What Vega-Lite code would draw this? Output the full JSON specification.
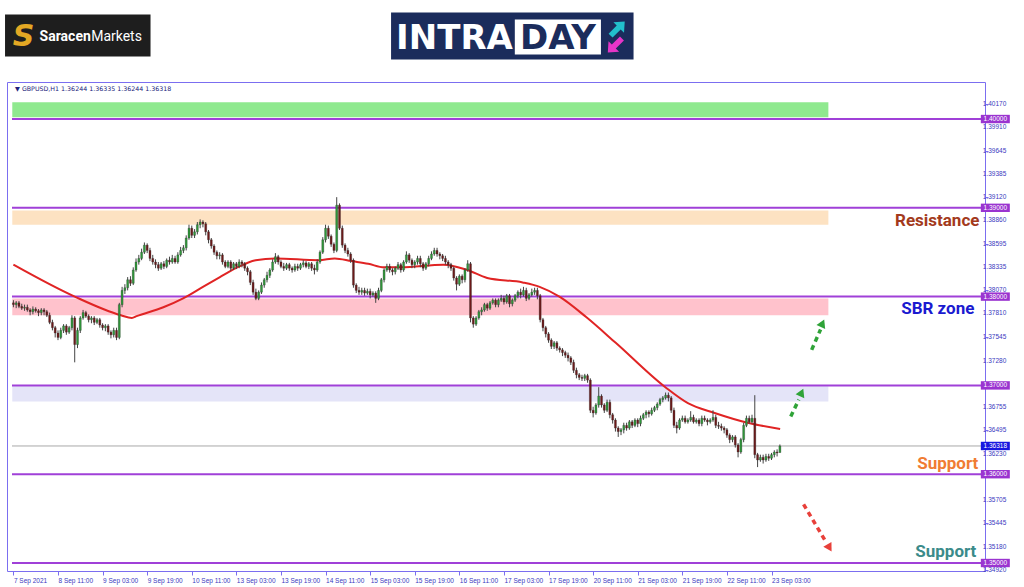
{
"$schema": "https://vega.github.io/schema/vega-lite/v6.json",
"width": 978, "height": 489,
"autosize": {"type": "none"},
"padding": {"left": 7, "top": 82, "right": 39, "bottom": 16},
"background": "white",
"config": {"view": {"stroke": "#7b6ef0", "strokeWidth": 1}, "axis": {"labelOverlap": false}},
"datasets": {
"candles": [
{"t":0,"o":1.3793,"h":1.3796,"l":1.3788,"c":1.3791},
{"t":1,"o":1.3791,"h":1.3795,"l":1.3787,"c":1.3793},
{"t":2,"o":1.3793,"h":1.3795,"l":1.3787,"c":1.3789},
{"t":3,"o":1.3789,"h":1.3792,"l":1.3785,"c":1.3787},
{"t":4,"o":1.3787,"h":1.3791,"l":1.3784,"c":1.3788},
{"t":5,"o":1.3788,"h":1.3791,"l":1.3783,"c":1.3785},
{"t":6,"o":1.3785,"h":1.3787,"l":1.3779,"c":1.3783},
{"t":7,"o":1.3783,"h":1.3789,"l":1.3780,"c":1.3786},
{"t":8,"o":1.3786,"h":1.3788,"l":1.3782,"c":1.3784},
{"t":9,"o":1.3784,"h":1.3786,"l":1.3778,"c":1.3782},
{"t":10,"o":1.3782,"h":1.3787,"l":1.3779,"c":1.3785},
{"t":11,"o":1.3785,"h":1.3787,"l":1.3779,"c":1.3783},
{"t":12,"o":1.3783,"h":1.3785,"l":1.3777,"c":1.3779},
{"t":13,"o":1.3779,"h":1.3782,"l":1.3769,"c":1.3771},
{"t":14,"o":1.3771,"h":1.3774,"l":1.3762,"c":1.3765},
{"t":15,"o":1.3765,"h":1.3767,"l":1.3754,"c":1.3759},
{"t":16,"o":1.3759,"h":1.3762,"l":1.3751,"c":1.3754},
{"t":17,"o":1.3754,"h":1.3765,"l":1.3752,"c":1.3762},
{"t":18,"o":1.3762,"h":1.3769,"l":1.3759,"c":1.3767},
{"t":19,"o":1.3767,"h":1.3769,"l":1.3757,"c":1.3760},
{"t":20,"o":1.3760,"h":1.3767,"l":1.3758,"c":1.3765},
{"t":21,"o":1.3765,"h":1.3779,"l":1.3762,"c":1.3776},
{"t":22,"o":1.3776,"h":1.3778,"l":1.3726,"c":1.3746},
{"t":23,"o":1.3746,"h":1.3765,"l":1.3742,"c":1.3762},
{"t":24,"o":1.3762,"h":1.3778,"l":1.3759,"c":1.3776},
{"t":25,"o":1.3776,"h":1.3785,"l":1.3774,"c":1.3782},
{"t":26,"o":1.3782,"h":1.3784,"l":1.3776,"c":1.3778},
{"t":27,"o":1.3778,"h":1.3780,"l":1.3771,"c":1.3774},
{"t":28,"o":1.3774,"h":1.3778,"l":1.3770,"c":1.3776},
{"t":29,"o":1.3776,"h":1.3778,"l":1.3768,"c":1.3771},
{"t":30,"o":1.3771,"h":1.3776,"l":1.3769,"c":1.3774},
{"t":31,"o":1.3774,"h":1.3776,"l":1.3765,"c":1.3768},
{"t":32,"o":1.3768,"h":1.3770,"l":1.3762,"c":1.3765},
{"t":33,"o":1.3765,"h":1.3769,"l":1.3761,"c":1.3767},
{"t":34,"o":1.3767,"h":1.3769,"l":1.3757,"c":1.3760},
{"t":35,"o":1.3760,"h":1.3762,"l":1.3753,"c":1.3757},
{"t":36,"o":1.3757,"h":1.3765,"l":1.3754,"c":1.3762},
{"t":37,"o":1.3762,"h":1.3765,"l":1.3751,"c":1.3754},
{"t":38,"o":1.3754,"h":1.3793,"l":1.3752,"c":1.3791},
{"t":39,"o":1.3791,"h":1.3811,"l":1.3788,"c":1.3807},
{"t":40,"o":1.3807,"h":1.3814,"l":1.3803,"c":1.3810},
{"t":41,"o":1.3810,"h":1.3822,"l":1.3807,"c":1.3819},
{"t":42,"o":1.3819,"h":1.3823,"l":1.3812,"c":1.3815},
{"t":43,"o":1.3815,"h":1.3833,"l":1.3813,"c":1.3830},
{"t":44,"o":1.3830,"h":1.3843,"l":1.3828,"c":1.3839},
{"t":45,"o":1.3839,"h":1.3847,"l":1.3836,"c":1.3843},
{"t":46,"o":1.3843,"h":1.3854,"l":1.3841,"c":1.3850},
{"t":47,"o":1.3850,"h":1.3861,"l":1.3848,"c":1.3858},
{"t":48,"o":1.3858,"h":1.3860,"l":1.3849,"c":1.3852},
{"t":49,"o":1.3852,"h":1.3855,"l":1.3840,"c":1.3843},
{"t":50,"o":1.3843,"h":1.3847,"l":1.3836,"c":1.3839},
{"t":51,"o":1.3839,"h":1.3842,"l":1.3832,"c":1.3836},
{"t":52,"o":1.3836,"h":1.3839,"l":1.3829,"c":1.3832},
{"t":53,"o":1.3832,"h":1.3839,"l":1.3830,"c":1.3837},
{"t":54,"o":1.3837,"h":1.3840,"l":1.3831,"c":1.3834},
{"t":55,"o":1.3834,"h":1.3843,"l":1.3832,"c":1.3841},
{"t":56,"o":1.3841,"h":1.3845,"l":1.3836,"c":1.3839},
{"t":57,"o":1.3839,"h":1.3847,"l":1.3837,"c":1.3843},
{"t":58,"o":1.3843,"h":1.3846,"l":1.3837,"c":1.3839},
{"t":59,"o":1.3839,"h":1.3850,"l":1.3837,"c":1.3847},
{"t":60,"o":1.3847,"h":1.3856,"l":1.3845,"c":1.3852},
{"t":61,"o":1.3852,"h":1.3858,"l":1.3849,"c":1.3855},
{"t":62,"o":1.3855,"h":1.3869,"l":1.3852,"c":1.3866},
{"t":63,"o":1.3866,"h":1.3881,"l":1.3864,"c":1.3877},
{"t":64,"o":1.3877,"h":1.3880,"l":1.3866,"c":1.3869},
{"t":65,"o":1.3869,"h":1.3876,"l":1.3866,"c":1.3873},
{"t":66,"o":1.3873,"h":1.3884,"l":1.3870,"c":1.3881},
{"t":67,"o":1.3881,"h":1.3887,"l":1.3877,"c":1.3884},
{"t":68,"o":1.3884,"h":1.3886,"l":1.3878,"c":1.3882},
{"t":69,"o":1.3882,"h":1.3884,"l":1.3869,"c":1.3873},
{"t":70,"o":1.3873,"h":1.3875,"l":1.3860,"c":1.3864},
{"t":71,"o":1.3864,"h":1.3866,"l":1.3854,"c":1.3857},
{"t":72,"o":1.3857,"h":1.3859,"l":1.3847,"c":1.3850},
{"t":73,"o":1.3850,"h":1.3852,"l":1.3842,"c":1.3846},
{"t":74,"o":1.3846,"h":1.3850,"l":1.3842,"c":1.3847},
{"t":75,"o":1.3847,"h":1.3849,"l":1.3836,"c":1.3839},
{"t":76,"o":1.3839,"h":1.3841,"l":1.3832,"c":1.3834},
{"t":77,"o":1.3834,"h":1.3841,"l":1.3832,"c":1.3839},
{"t":78,"o":1.3839,"h":1.3841,"l":1.3829,"c":1.3832},
{"t":79,"o":1.3832,"h":1.3839,"l":1.3830,"c":1.3837},
{"t":80,"o":1.3837,"h":1.3839,"l":1.3831,"c":1.3834},
{"t":81,"o":1.3834,"h":1.3842,"l":1.3832,"c":1.3839},
{"t":82,"o":1.3839,"h":1.3841,"l":1.3833,"c":1.3837},
{"t":83,"o":1.3837,"h":1.3839,"l":1.3829,"c":1.3832},
{"t":84,"o":1.3832,"h":1.3834,"l":1.3824,"c":1.3828},
{"t":85,"o":1.3828,"h":1.3830,"l":1.3813,"c":1.3816},
{"t":86,"o":1.3816,"h":1.3819,"l":1.3802,"c":1.3805},
{"t":87,"o":1.3805,"h":1.3809,"l":1.3796,"c":1.3798},
{"t":88,"o":1.3798,"h":1.3807,"l":1.3796,"c":1.3805},
{"t":89,"o":1.3805,"h":1.3816,"l":1.3803,"c":1.3813},
{"t":90,"o":1.3813,"h":1.3821,"l":1.3810,"c":1.3819},
{"t":91,"o":1.3819,"h":1.3828,"l":1.3816,"c":1.3824},
{"t":92,"o":1.3824,"h":1.3832,"l":1.3821,"c":1.3830},
{"t":93,"o":1.3830,"h":1.3842,"l":1.3828,"c":1.3839},
{"t":94,"o":1.3839,"h":1.3849,"l":1.3837,"c":1.3845},
{"t":95,"o":1.3845,"h":1.3847,"l":1.3836,"c":1.3839},
{"t":96,"o":1.3839,"h":1.3841,"l":1.3832,"c":1.3834},
{"t":97,"o":1.3834,"h":1.3838,"l":1.3829,"c":1.3832},
{"t":98,"o":1.3832,"h":1.3838,"l":1.3830,"c":1.3836},
{"t":99,"o":1.3836,"h":1.3838,"l":1.3829,"c":1.3832},
{"t":100,"o":1.3832,"h":1.3834,"l":1.3827,"c":1.3830},
{"t":101,"o":1.3830,"h":1.3837,"l":1.3828,"c":1.3834},
{"t":102,"o":1.3834,"h":1.3837,"l":1.3829,"c":1.3832},
{"t":103,"o":1.3832,"h":1.3838,"l":1.3830,"c":1.3836},
{"t":104,"o":1.3836,"h":1.3841,"l":1.3833,"c":1.3838},
{"t":105,"o":1.3838,"h":1.3840,"l":1.3832,"c":1.3834},
{"t":106,"o":1.3834,"h":1.3839,"l":1.3831,"c":1.3837},
{"t":107,"o":1.3837,"h":1.3839,"l":1.3829,"c":1.3832},
{"t":108,"o":1.3832,"h":1.3836,"l":1.3825,"c":1.3830},
{"t":109,"o":1.3830,"h":1.3842,"l":1.3828,"c":1.3839},
{"t":110,"o":1.3839,"h":1.3852,"l":1.3837,"c":1.3850},
{"t":111,"o":1.3850,"h":1.3867,"l":1.3848,"c":1.3864},
{"t":112,"o":1.3864,"h":1.3881,"l":1.3861,"c":1.3877},
{"t":113,"o":1.3877,"h":1.3880,"l":1.3865,"c":1.3868},
{"t":114,"o":1.3868,"h":1.3870,"l":1.3856,"c":1.3859},
{"t":115,"o":1.3859,"h":1.3861,"l":1.3849,"c":1.3852},
{"t":116,"o":1.3852,"h":1.3912,"l":1.3850,"c":1.3903},
{"t":117,"o":1.3903,"h":1.3905,"l":1.3875,"c":1.3877},
{"t":118,"o":1.3877,"h":1.3880,"l":1.3855,"c":1.3858},
{"t":119,"o":1.3858,"h":1.3860,"l":1.3849,"c":1.3852},
{"t":120,"o":1.3852,"h":1.3855,"l":1.3845,"c":1.3848},
{"t":121,"o":1.3848,"h":1.3850,"l":1.3838,"c":1.3841},
{"t":122,"o":1.3841,"h":1.3843,"l":1.3810,"c":1.3813},
{"t":123,"o":1.3813,"h":1.3815,"l":1.3804,"c":1.3807},
{"t":124,"o":1.3807,"h":1.3811,"l":1.3802,"c":1.3805},
{"t":125,"o":1.3805,"h":1.3810,"l":1.3802,"c":1.3807},
{"t":126,"o":1.3807,"h":1.3810,"l":1.3801,"c":1.3804},
{"t":127,"o":1.3804,"h":1.3809,"l":1.3802,"c":1.3806},
{"t":128,"o":1.3806,"h":1.3809,"l":1.3798,"c":1.3802},
{"t":129,"o":1.3802,"h":1.3806,"l":1.3800,"c":1.3804},
{"t":130,"o":1.3804,"h":1.3806,"l":1.3793,"c":1.3798},
{"t":131,"o":1.3798,"h":1.3810,"l":1.3796,"c":1.3807},
{"t":132,"o":1.3807,"h":1.3821,"l":1.3805,"c":1.3819},
{"t":133,"o":1.3819,"h":1.3832,"l":1.3816,"c":1.3830},
{"t":134,"o":1.3830,"h":1.3837,"l":1.3828,"c":1.3834},
{"t":135,"o":1.3834,"h":1.3837,"l":1.3827,"c":1.3830},
{"t":136,"o":1.3830,"h":1.3832,"l":1.3824,"c":1.3828},
{"t":137,"o":1.3828,"h":1.3834,"l":1.3825,"c":1.3832},
{"t":138,"o":1.3832,"h":1.3839,"l":1.3830,"c":1.3836},
{"t":139,"o":1.3836,"h":1.3838,"l":1.3827,"c":1.3830},
{"t":140,"o":1.3830,"h":1.3841,"l":1.3828,"c":1.3839},
{"t":141,"o":1.3839,"h":1.3851,"l":1.3837,"c":1.3847},
{"t":142,"o":1.3847,"h":1.3849,"l":1.3838,"c":1.3841},
{"t":143,"o":1.3841,"h":1.3843,"l":1.3832,"c":1.3836},
{"t":144,"o":1.3836,"h":1.3841,"l":1.3832,"c":1.3839},
{"t":145,"o":1.3839,"h":1.3846,"l":1.3836,"c":1.3843},
{"t":146,"o":1.3843,"h":1.3846,"l":1.3833,"c":1.3837},
{"t":147,"o":1.3837,"h":1.3839,"l":1.3829,"c":1.3832},
{"t":148,"o":1.3832,"h":1.3839,"l":1.3830,"c":1.3837},
{"t":149,"o":1.3837,"h":1.3846,"l":1.3834,"c":1.3843},
{"t":150,"o":1.3843,"h":1.3851,"l":1.3841,"c":1.3848},
{"t":151,"o":1.3848,"h":1.3855,"l":1.3846,"c":1.3852},
{"t":152,"o":1.3852,"h":1.3855,"l":1.3845,"c":1.3848},
{"t":153,"o":1.3848,"h":1.3850,"l":1.3842,"c":1.3846},
{"t":154,"o":1.3846,"h":1.3848,"l":1.3840,"c":1.3843},
{"t":155,"o":1.3843,"h":1.3846,"l":1.3836,"c":1.3839},
{"t":156,"o":1.3839,"h":1.3841,"l":1.3832,"c":1.3836},
{"t":157,"o":1.3836,"h":1.3838,"l":1.3829,"c":1.3832},
{"t":158,"o":1.3832,"h":1.3834,"l":1.3818,"c":1.3821},
{"t":159,"o":1.3821,"h":1.3823,"l":1.3807,"c":1.3814},
{"t":160,"o":1.3814,"h":1.3825,"l":1.3812,"c":1.3823},
{"t":161,"o":1.3823,"h":1.3825,"l":1.3815,"c":1.3819},
{"t":162,"o":1.3819,"h":1.3832,"l":1.3816,"c":1.3830},
{"t":163,"o":1.3830,"h":1.3841,"l":1.3828,"c":1.3837},
{"t":164,"o":1.3837,"h":1.3839,"l":1.3771,"c":1.3776},
{"t":165,"o":1.3776,"h":1.3778,"l":1.3765,"c":1.3769},
{"t":166,"o":1.3769,"h":1.3778,"l":1.3767,"c":1.3776},
{"t":167,"o":1.3776,"h":1.3785,"l":1.3774,"c":1.3783},
{"t":168,"o":1.3783,"h":1.3788,"l":1.3779,"c":1.3785},
{"t":169,"o":1.3785,"h":1.3793,"l":1.3783,"c":1.3791},
{"t":170,"o":1.3791,"h":1.3793,"l":1.3784,"c":1.3787},
{"t":171,"o":1.3787,"h":1.3795,"l":1.3785,"c":1.3793},
{"t":172,"o":1.3793,"h":1.3798,"l":1.3791,"c":1.3796},
{"t":173,"o":1.3796,"h":1.3798,"l":1.3788,"c":1.3791},
{"t":174,"o":1.3791,"h":1.3798,"l":1.3788,"c":1.3796},
{"t":175,"o":1.3796,"h":1.3802,"l":1.3794,"c":1.3798},
{"t":176,"o":1.3798,"h":1.3801,"l":1.3791,"c":1.3794},
{"t":177,"o":1.3794,"h":1.3803,"l":1.3792,"c":1.3801},
{"t":178,"o":1.3801,"h":1.3803,"l":1.3788,"c":1.3792},
{"t":179,"o":1.3792,"h":1.3798,"l":1.3789,"c":1.3796},
{"t":180,"o":1.3796,"h":1.3803,"l":1.3794,"c":1.3801},
{"t":181,"o":1.3801,"h":1.3807,"l":1.3798,"c":1.3805},
{"t":182,"o":1.3805,"h":1.3809,"l":1.3798,"c":1.3802},
{"t":183,"o":1.3802,"h":1.3811,"l":1.3800,"c":1.3807},
{"t":184,"o":1.3807,"h":1.3810,"l":1.3795,"c":1.3798},
{"t":185,"o":1.3798,"h":1.3804,"l":1.3796,"c":1.3802},
{"t":186,"o":1.3802,"h":1.3809,"l":1.3800,"c":1.3805},
{"t":187,"o":1.3805,"h":1.3810,"l":1.3802,"c":1.3807},
{"t":188,"o":1.3807,"h":1.3810,"l":1.3797,"c":1.3801},
{"t":189,"o":1.3801,"h":1.3803,"l":1.3771,"c":1.3774},
{"t":190,"o":1.3774,"h":1.3776,"l":1.3761,"c":1.3765},
{"t":191,"o":1.3765,"h":1.3767,"l":1.3754,"c":1.3758},
{"t":192,"o":1.3758,"h":1.3760,"l":1.3748,"c":1.3751},
{"t":193,"o":1.3751,"h":1.3753,"l":1.3741,"c":1.3744},
{"t":194,"o":1.3744,"h":1.3750,"l":1.3741,"c":1.3748},
{"t":195,"o":1.3748,"h":1.3750,"l":1.3739,"c":1.3742},
{"t":196,"o":1.3742,"h":1.3744,"l":1.3737,"c":1.3740},
{"t":197,"o":1.3740,"h":1.3742,"l":1.3733,"c":1.3737},
{"t":198,"o":1.3737,"h":1.3739,"l":1.3731,"c":1.3734},
{"t":199,"o":1.3734,"h":1.3737,"l":1.3727,"c":1.3731},
{"t":200,"o":1.3731,"h":1.3733,"l":1.3723,"c":1.3726},
{"t":201,"o":1.3726,"h":1.3729,"l":1.3714,"c":1.3717},
{"t":202,"o":1.3717,"h":1.3720,"l":1.3708,"c":1.3712},
{"t":203,"o":1.3712,"h":1.3714,"l":1.3706,"c":1.3709},
{"t":204,"o":1.3709,"h":1.3712,"l":1.3705,"c":1.3708},
{"t":205,"o":1.3708,"h":1.3713,"l":1.3705,"c":1.3711},
{"t":206,"o":1.3711,"h":1.3713,"l":1.3703,"c":1.3706},
{"t":207,"o":1.3706,"h":1.3708,"l":1.3669,"c":1.3672},
{"t":208,"o":1.3672,"h":1.3676,"l":1.3664,"c":1.3669},
{"t":209,"o":1.3669,"h":1.3680,"l":1.3667,"c":1.3678},
{"t":210,"o":1.3678,"h":1.3698,"l":1.3675,"c":1.3688},
{"t":211,"o":1.3688,"h":1.3690,"l":1.3675,"c":1.3678},
{"t":212,"o":1.3678,"h":1.3680,"l":1.3669,"c":1.3672},
{"t":213,"o":1.3672,"h":1.3684,"l":1.3670,"c":1.3681},
{"t":214,"o":1.3681,"h":1.3684,"l":1.3663,"c":1.3667},
{"t":215,"o":1.3667,"h":1.3669,"l":1.3657,"c":1.3661},
{"t":216,"o":1.3661,"h":1.3663,"l":1.3648,"c":1.3652},
{"t":217,"o":1.3652,"h":1.3654,"l":1.3642,"c":1.3648},
{"t":218,"o":1.3648,"h":1.3652,"l":1.3644,"c":1.3650},
{"t":219,"o":1.3650,"h":1.3658,"l":1.3646,"c":1.3655},
{"t":220,"o":1.3655,"h":1.3658,"l":1.3649,"c":1.3652},
{"t":221,"o":1.3652,"h":1.3661,"l":1.3650,"c":1.3659},
{"t":222,"o":1.3659,"h":1.3661,"l":1.3652,"c":1.3655},
{"t":223,"o":1.3655,"h":1.3663,"l":1.3653,"c":1.3661},
{"t":224,"o":1.3661,"h":1.3663,"l":1.3653,"c":1.3657},
{"t":225,"o":1.3657,"h":1.3666,"l":1.3654,"c":1.3663},
{"t":226,"o":1.3663,"h":1.3669,"l":1.3661,"c":1.3667},
{"t":227,"o":1.3667,"h":1.3672,"l":1.3663,"c":1.3670},
{"t":228,"o":1.3670,"h":1.3672,"l":1.3664,"c":1.3668},
{"t":229,"o":1.3668,"h":1.3675,"l":1.3666,"c":1.3672},
{"t":230,"o":1.3672,"h":1.3677,"l":1.3670,"c":1.3675},
{"t":231,"o":1.3675,"h":1.3681,"l":1.3672,"c":1.3679},
{"t":232,"o":1.3679,"h":1.3686,"l":1.3677,"c":1.3684},
{"t":233,"o":1.3684,"h":1.3688,"l":1.3681,"c":1.3686},
{"t":234,"o":1.3686,"h":1.3692,"l":1.3684,"c":1.3689},
{"t":235,"o":1.3689,"h":1.3692,"l":1.3682,"c":1.3686},
{"t":236,"o":1.3686,"h":1.3688,"l":1.3669,"c":1.3672},
{"t":237,"o":1.3672,"h":1.3675,"l":1.3652,"c":1.3655},
{"t":238,"o":1.3655,"h":1.3659,"l":1.3646,"c":1.3652},
{"t":239,"o":1.3652,"h":1.3663,"l":1.3650,"c":1.3661},
{"t":240,"o":1.3661,"h":1.3666,"l":1.3659,"c":1.3663},
{"t":241,"o":1.3663,"h":1.3666,"l":1.3657,"c":1.3659},
{"t":242,"o":1.3659,"h":1.3663,"l":1.3657,"c":1.3661},
{"t":243,"o":1.3661,"h":1.3671,"l":1.3659,"c":1.3664},
{"t":244,"o":1.3664,"h":1.3667,"l":1.3657,"c":1.3659},
{"t":245,"o":1.3659,"h":1.3663,"l":1.3657,"c":1.3661},
{"t":246,"o":1.3661,"h":1.3663,"l":1.3654,"c":1.3657},
{"t":247,"o":1.3657,"h":1.3666,"l":1.3654,"c":1.3663},
{"t":248,"o":1.3663,"h":1.3666,"l":1.3659,"c":1.3661},
{"t":249,"o":1.3661,"h":1.3663,"l":1.3655,"c":1.3659},
{"t":250,"o":1.3659,"h":1.3663,"l":1.3657,"c":1.3661},
{"t":251,"o":1.3661,"h":1.3672,"l":1.3659,"c":1.3664},
{"t":252,"o":1.3664,"h":1.3667,"l":1.3652,"c":1.3655},
{"t":253,"o":1.3655,"h":1.3659,"l":1.3651,"c":1.3654},
{"t":254,"o":1.3654,"h":1.3657,"l":1.3649,"c":1.3652},
{"t":255,"o":1.3652,"h":1.3654,"l":1.3646,"c":1.3650},
{"t":256,"o":1.3650,"h":1.3652,"l":1.3641,"c":1.3644},
{"t":257,"o":1.3644,"h":1.3646,"l":1.3635,"c":1.3639},
{"t":258,"o":1.3639,"h":1.3644,"l":1.3636,"c":1.3642},
{"t":259,"o":1.3642,"h":1.3644,"l":1.3630,"c":1.3633},
{"t":260,"o":1.3633,"h":1.3635,"l":1.3619,"c":1.3625},
{"t":261,"o":1.3625,"h":1.3641,"l":1.3623,"c":1.3639},
{"t":262,"o":1.3639,"h":1.3658,"l":1.3636,"c":1.3655},
{"t":263,"o":1.3655,"h":1.3666,"l":1.3653,"c":1.3663},
{"t":264,"o":1.3663,"h":1.3666,"l":1.3657,"c":1.3659},
{"t":265,"o":1.3659,"h":1.3667,"l":1.3657,"c":1.3663},
{"t":266,"o":1.3663,"h":1.3689,"l":1.3618,"c":1.3622},
{"t":267,"o":1.3622,"h":1.3624,"l":1.3608,"c":1.3616},
{"t":268,"o":1.3616,"h":1.3622,"l":1.3614,"c":1.3619},
{"t":269,"o":1.3619,"h":1.3622,"l":1.3612,"c":1.3616},
{"t":270,"o":1.3616,"h":1.3623,"l":1.3614,"c":1.3620},
{"t":271,"o":1.3620,"h":1.3623,"l":1.3615,"c":1.3618},
{"t":272,"o":1.3618,"h":1.3624,"l":1.3616,"c":1.3622},
{"t":273,"o":1.3622,"h":1.3627,"l":1.3619,"c":1.3625},
{"t":274,"o":1.3625,"h":1.3628,"l":1.3620,"c":1.3624},
{"t":275,"o":1.36244,"h":1.36335,"l":1.36244,"c":1.36318}
],
"ma": [
{"t":0,"v":1.3836},{"t":22,"v":1.3800},{"t":38.6,"v":1.3779},{"t":42.5,"v":1.3776},{"t":44.2,"v":1.3778},{"t":53.8,"v":1.3788},{"t":60.9,"v":1.3798},{"t":68,"v":1.3811},{"t":74.1,"v":1.3822},{"t":79.8,"v":1.3832},{"t":86.9,"v":1.3841},{"t":94,"v":1.3843},{"t":109.6,"v":1.3841},{"t":115.3,"v":1.3843},{"t":121.3,"v":1.3840},{"t":127.3,"v":1.3837},{"t":133,"v":1.3833},{"t":139.1,"v":1.3833},{"t":154.3,"v":1.3836},{"t":162.9,"v":1.3830},{"t":170,"v":1.3821},{"t":182.7,"v":1.3816},{"t":188.8,"v":1.3811},{"t":195.9,"v":1.3800},{"t":205.5,"v":1.3777},{"t":216.1,"v":1.3748},{"t":233.9,"v":1.3698},{"t":242,"v":1.3680},{"t":251.6,"v":1.3669},{"t":263.4,"v":1.3658},{"t":275.1,"v":1.3651}
],
"zones": [
{"z":"top","lo":1.4002,"hi":1.4019},
{"z":"res","lo":1.3881,"hi":1.3897},
{"z":"sbr","lo":1.3779,"hi":1.3798},
{"z":"sup","lo":1.3682,"hi":1.3699}
],
"levels": [{"p":1.40},{"p":1.39},{"p":1.38},{"p":1.37},{"p":1.36},{"p":1.35}],
"yticks": [{"p":1.4017},{"p":1.3991},{"p":1.39645},{"p":1.39385},{"p":1.3912},{"p":1.3886},{"p":1.38595},{"p":1.38335},{"p":1.3807},{"p":1.3781},{"p":1.37545},{"p":1.3728},{"p":1.36755},{"p":1.36495},{"p":1.3623},{"p":1.35705},{"p":1.35445},{"p":1.3518},{"p":1.3492}],
"arrows": [
{"a":"g1","t":286.4,"p":1.3740},{"a":"g1","t":289.6,"p":1.3763},
{"a":"g2","t":278.9,"p":1.3665},{"a":"g2","t":281.8,"p":1.3684},
{"a":"r1","t":283.5,"p":1.3566},{"a":"r1","t":291.3,"p":1.3525}
]
},
"layer": [
{
"data": {"name": "zones"},
"mark": {"type": "rect"},
"encoding": {
"x": {"datum": -0.4, "type": "quantitative", "scale": {"domain": [-0.5, 346.8], "nice": false, "zero": false},
"axis": {"orient": "bottom", "title": null, "grid": false, "domain": false, "values": [0,16,32,48,64,80,96,112,128,144,160,176,192,208,224,240,256,272],
"labelExpr": "['7 Sep 2021','8 Sep 11:00','9 Sep 03:00','9 Sep 19:00','10 Sep 11:00','13 Sep 03:00','13 Sep 19:00','14 Sep 11:00','15 Sep 03:00','15 Sep 19:00','16 Sep 11:00','17 Sep 03:00','17 Sep 19:00','20 Sep 11:00','21 Sep 03:00','21 Sep 19:00','22 Sep 11:00','23 Sep 03:00'][round(datum.value/16)]",
"tickSize": 4, "tickColor": "#7b6ef0", "labelAlign": "left", "labelBaseline": "top", "labelPadding": 2, "labelFont": "Liberation Sans", "labelFontSize": 6.5, "labelColor": "#3a3ac0", "labelOverlap": false, "labelFlush": false, "labelBound": false}},
"x2": {"datum": 292.4},
"y": {"field": "lo", "type": "quantitative", "title": null, "scale": {"domain": [1.3491, 1.40417], "nice": false, "zero": false},
"axis": {"orient": "right", "title": null, "grid": false, "domain": false, "labels": false, "values": [1.4017,1.3991,1.39645,1.39385,1.3912,1.3886,1.38595,1.38335,1.3807,1.3781,1.37545,1.3728,1.3702,1.36755,1.36495,1.3623,1.3597,1.35705,1.35445,1.3518,1.3492],
"tickSize": 3, "tickColor": "#7b6ef0"}},
"y2": {"field": "hi"},
"color": {"field": "z", "type": "nominal", "legend": null, "scale": {"domain": ["top","res","sbr","sup","g1","g2","r1"], "range": ["#8fe98f","#fde2c2","#ffc2cc","#e4e4f8","#2fa338","#2fa338","#e8403a"]}}
}
},
{
"data": {"name": "yticks"},
"mark": {"type": "text", "align": "left", "baseline": "middle", "font": "Liberation Sans", "fontSize": 6.5, "color": "#3a3ac0"},
"encoding": {
"x": {"datum": 347.8, "type": "quantitative"},
"y": {"field": "p", "type": "quantitative", "title": null},
"text": {"field": "p", "type": "quantitative", "format": ".5f"}
}
},
{
"data": {"name": "levels"},
"mark": {"type": "rule", "color": "#a040d8", "strokeWidth": 2},
"encoding": {
"x": {"datum": -0.5, "type": "quantitative"},
"x2": {"datum": 347.2},
"y": {"field": "p", "type": "quantitative", "title": null}
}
},
{
"data": {"values": [{}]},
"mark": {"type": "rule", "color": "#a8a8a8", "strokeWidth": 1},
"encoding": {
"x": {"datum": -0.5, "type": "quantitative"},
"x2": {"datum": 347.2},
"y": {"datum": 1.36318, "type": "quantitative"}
}
},
{
"data": {"name": "ma"},
"mark": {"type": "line", "color": "#e02424", "strokeWidth": 2, "interpolate": "monotone"},
"encoding": {
"x": {"field": "t", "type": "quantitative", "title": null},
"y": {"field": "v", "type": "quantitative", "title": null}
}
},
{
"data": {"name": "candles"},
"mark": {"type": "rule", "color": "#444444", "strokeWidth": 1},
"encoding": {
"x": {"field": "t", "type": "quantitative", "title": null},
"y": {"field": "l", "type": "quantitative", "title": null},
"y2": {"field": "h"}
}
},
{
"data": {"name": "candles"},
"mark": {"type": "bar", "size": 2, "stroke": "#2a2a2a", "strokeWidth": 0.3},
"encoding": {
"x": {"field": "t", "type": "quantitative", "title": null},
"y": {"field": "o", "type": "quantitative", "title": null},
"y2": {"field": "c"},
"color": {"condition": {"test": "datum.c >= datum.o", "value": "#2f9a3a"}, "value": "#6e1a1a"}
}
},
{
"data": {"name": "arrows"},
"mark": {"type": "line", "strokeWidth": 3.5, "strokeDash": [5, 4], "strokeCap": "butt", "opacity": 1},
"encoding": {
"x": {"field": "t", "type": "quantitative", "title": null},
"y": {"field": "p", "type": "quantitative", "title": null},
"detail": {"field": "a"},
"color": {"field": "a", "type": "nominal", "legend": null, "scale": {"domain": ["top","res","sbr","sup","g1","g2","r1"], "range": ["#8fe98f","#fde2c2","#ffc2cc","#e4e4f8","#2fa338","#2fa338","#e8403a"]}}
}
},
{
"data": {"values": [{}]},
"mark": {"type": "point", "shape": "triangle-up", "filled": true, "opacity": 1, "size": 90, "angle": 24, "color": "#2fa338"},
"encoding": {"x": {"datum": 290.3, "type": "quantitative"}, "y": {"datum": 1.3770, "type": "quantitative"}}
},
{
"data": {"values": [{}]},
"mark": {"type": "point", "shape": "triangle-up", "filled": true, "opacity": 1, "size": 90, "angle": 24, "color": "#2fa338"},
"encoding": {"x": {"datum": 282.8, "type": "quantitative"}, "y": {"datum": 1.3692, "type": "quantitative"}}
},
{
"data": {"values": [{}]},
"mark": {"type": "point", "shape": "triangle-up", "filled": true, "opacity": 1, "size": 90, "angle": 149, "color": "#e8403a"},
"encoding": {"x": {"datum": 292.8, "type": "quantitative"}, "y": {"datum": 1.3517, "type": "quantitative"}}
},
{
"data": {"values": [{}]},
"mark": {"type": "text", "text": "Resistance", "align": "right", "baseline": "middle", "font": "Roboto", "fontWeight": "bold", "fontSize": 17, "color": "#a33a1c"},
"encoding": {"x": {"datum": 346.6, "type": "quantitative"}, "y": {"datum": 1.3885, "type": "quantitative"}}
},
{
"data": {"values": [{}]},
"mark": {"type": "text", "text": "SBR zone", "align": "right", "baseline": "middle", "font": "Roboto", "fontWeight": "bold", "fontSize": 17, "color": "#1a1ad0"},
"encoding": {"x": {"datum": 344.8, "type": "quantitative"}, "y": {"datum": 1.3786, "type": "quantitative"}}
},
{
"data": {"values": [{}]},
"mark": {"type": "text", "text": "Support", "align": "right", "baseline": "middle", "font": "Roboto", "fontWeight": "bold", "fontSize": 17, "color": "#f07c33"},
"encoding": {"x": {"datum": 346.2, "type": "quantitative"}, "y": {"datum": 1.3612, "type": "quantitative"}}
},
{
"data": {"values": [{}]},
"mark": {"type": "text", "text": "Support", "align": "right", "baseline": "middle", "font": "Roboto", "fontWeight": "bold", "fontSize": 17, "color": "#3b8b8a"},
"encoding": {"x": {"datum": 345.5, "type": "quantitative"}, "y": {"datum": 1.3512, "type": "quantitative"}}
},
{
"data": {"values": [{}]},
"mark": {"type": "text", "text": "▼ GBPUSD,H1  1.36244 1.36335 1.36244 1.36318", "align": "left", "baseline": "middle", "font": "DejaVu Sans", "fontSize": 6.3, "color": "#20207a"},
"encoding": {"x": {"datum": 0.6, "type": "quantitative"}, "y": {"datum": 1.40343, "type": "quantitative"}}
},
{
"data": {"name": "levels"},
"mark": {"type": "point", "shape": "M-1.45,-0.42L1.45,-0.42L1.45,0.42L-1.45,0.42Z", "size": 400, "filled": true, "opacity": 1, "strokeWidth": 0, "color": "#9a34d0"},
"encoding": {
"x": {"datum": 352.3, "type": "quantitative"},
"y": {"field": "p", "type": "quantitative", "title": null}
}
},
{
"data": {"name": "levels"},
"mark": {"type": "text", "align": "center", "baseline": "middle", "font": "Liberation Sans", "fontSize": 6.5, "color": "white"},
"encoding": {
"x": {"datum": 352.3, "type": "quantitative"},
"y": {"field": "p", "type": "quantitative", "title": null},
"text": {"field": "p", "type": "quantitative", "format": ".5f"}
}
},
{
"data": {"values": [{}]},
"mark": {"type": "point", "shape": "M-1.45,-0.42L1.45,-0.42L1.45,0.42L-1.45,0.42Z", "size": 400, "filled": true, "opacity": 1, "strokeWidth": 0, "color": "#1818e0"},
"encoding": {"x": {"datum": 352.3, "type": "quantitative"}, "y": {"datum": 1.36318, "type": "quantitative"}}
},
{
"data": {"values": [{}]},
"mark": {"type": "text", "text": "1.36318", "align": "center", "baseline": "middle", "font": "Liberation Sans", "fontSize": 6.5, "color": "white"},
"encoding": {"x": {"datum": 352.3, "type": "quantitative"}, "y": {"datum": 1.36318, "type": "quantitative"}}
},
{
"data": {"values": [{}]},
"mark": {"type": "rect", "color": "#1e1e1e"},
"encoding": {"x": {"datum": -3.0, "type": "quantitative"}, "x2": {"datum": 49.2}, "y": {"datum": 1.41177, "type": "quantitative"}, "y2": {"datum": 1.40704}}
},
{
"data": {"values": [{}]},
"mark": {"type": "text", "text": "S", "align": "center", "baseline": "middle", "font": "DejaVu Sans", "fontWeight": "bold", "fontStyle": "italic", "fontSize": 30, "color": "#e3a824"},
"encoding": {"x": {"datum": 3.6, "type": "quantitative"}, "y": {"datum": 1.40929, "type": "quantitative"}}
},
{
"data": {"values": [{}]},
"mark": {"type": "text", "text": "Saracen", "align": "left", "baseline": "middle", "font": "Roboto", "fontWeight": "bold", "fontSize": 14, "color": "white"},
"encoding": {"x": {"datum": 9.4, "type": "quantitative"}, "y": {"datum": 1.40929, "type": "quantitative"}}
},
{
"data": {"values": [{}]},
"mark": {"type": "text", "text": "Markets", "align": "left", "baseline": "middle", "font": "Roboto", "fontSize": 14, "color": "white"},
"encoding": {"x": {"datum": 27.9, "type": "quantitative"}, "y": {"datum": 1.40929, "type": "quantitative"}}
},
{
"data": {"values": [{}]},
"mark": {"type": "rect", "color": "#1b2c5c"},
"encoding": {"x": {"datum": 135.5, "type": "quantitative"}, "x2": {"datum": 222.5}, "y": {"datum": 1.41199, "type": "quantitative"}, "y2": {"datum": 1.4067}}
},
{
"data": {"values": [{}]},
"mark": {"type": "rect", "color": "white"},
"encoding": {"x": {"datum": 179.9, "type": "quantitative"}, "x2": {"datum": 210.8}, "y": {"datum": 1.4112, "type": "quantitative"}, "y2": {"datum": 1.40726}}
},
{
"data": {"values": [{}]},
"mark": {"type": "text", "text": "INTRA", "align": "left", "baseline": "middle", "font": "DejaVu Sans", "fontWeight": "bold", "fontSize": 34, "color": "white"},
"encoding": {"x": {"datum": 137.3, "type": "quantitative"}, "y": {"datum": 1.40905, "type": "quantitative"}}
},
{
"data": {"values": [{}]},
"mark": {"type": "text", "text": "DAY", "align": "center", "baseline": "middle", "font": "DejaVu Sans", "fontWeight": "bold", "fontSize": 34, "color": "#1b2c5c"},
"encoding": {"x": {"datum": 195.4, "type": "quantitative"}, "y": {"datum": 1.40905, "type": "quantitative"}}
},
{
"data": {"values": [{}]},
"mark": {"type": "point", "shape": "M0,-1L0.75,-0.15L0.28,-0.15L0.28,1L-0.28,1L-0.28,-0.15L-0.75,-0.15Z", "size": 400, "filled": true, "opacity": 1, "strokeWidth": 0, "angle": 45, "color": "#22c0cc"},
"encoding": {"x": {"datum": 216.8, "type": "quantitative"}, "y": {"datum": 1.41019, "type": "quantitative"}}
},
{
"data": {"values": [{}]},
"mark": {"type": "point", "shape": "M0,-1L0.75,-0.15L0.28,-0.15L0.28,1L-0.28,1L-0.28,-0.15L-0.75,-0.15Z", "size": 400, "filled": true, "opacity": 1, "strokeWidth": 0, "angle": 225, "color": "#e535c8"},
"encoding": {"x": {"datum": 215.8, "type": "quantitative"}, "y": {"datum": 1.40828, "type": "quantitative"}}
}
]
}
